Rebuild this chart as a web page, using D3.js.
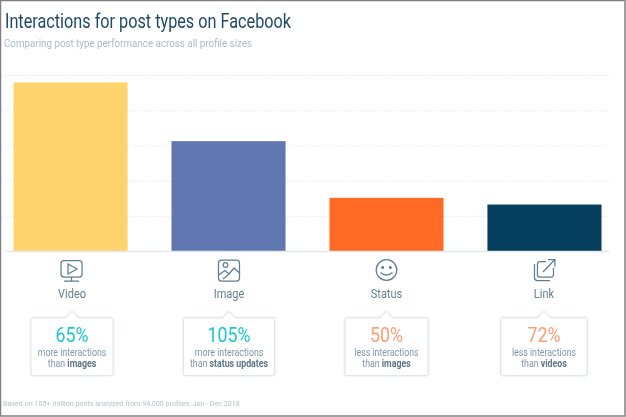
<!DOCTYPE html>
<html><head><meta charset="utf-8">
<script src="https://cdn.jsdelivr.net/npm/d3@7"></script>
<style>
html,body{margin:0;padding:0;background:#fff}
svg{display:block;font-family:Roboto,sans-serif;filter:blur(.3px)}
</style></head><body>
<svg id="c" width="626" height="417"></svg>
<script>
const categories=["Video","Image","Status","Link"];
const values=[4.79,3.12,1.51,1.32];
const barColors=["#FFD36E","#6177B2","#FF6B24","#053F5E"];
const gridTicks=[1,2,3,4,5];
const percents=["65%","105%","50%","72%"];
const percentColors=["#1CC5D5","#1CC5D5","#FF9C74","#FF9C74"];
const lineOne=["more interactions","more interactions","less interactions","less interactions"];
const lineTwoPlain=["than ","than ","than ","than "];
const lineTwoBold=["images","status updates","images","videos"];
const boxWidths=[82,91,83,86];
const centerNudge=[1.5,0.5,0,-0.5];

const svg=d3.select("#c");
const x=d3.scaleBand().domain(categories).range([13.5,601.5]).paddingInner(0.278);
const y=d3.scaleLinear().domain([0,5]).range([251,75]);

// frame
svg.append("rect").attr("x",.5).attr("y",.5).attr("width",624.5).attr("height",415.5)
  .attr("fill","#fff").attr("stroke","#808080").attr("stroke-width",1.5);

function cond(sel,px,py,sx,anchor){
  return sel.attr("transform",`translate(${px},${py}) scale(${sx},1)`).attr("text-anchor",anchor||"middle");
}
cond(svg.append("text").text("Interactions for post types on Facebook"),5,28,.812,"start")
  .attr("font-size",20).attr("fill","#1D4B66");
cond(svg.append("text").text("Comparing post type performance across all profile sizes"),4,47,.98,"start")
  .attr("font-size",10).attr("fill","#A9BBC7");
cond(svg.append("text").text("Based on 105+ million posts analyzed from 94,000 profiles, Jan - Dec 2018"),3,406,1.026,"start")
  .attr("font-size",7).attr("fill","#B3C2CC");

// grid
svg.append("g").selectAll("line").data(gridTicks).join("line")
  .attr("x1",5).attr("x2",609).attr("y1",d=>y(d)+.5).attr("y2",d=>y(d)+.5)
  .attr("stroke","#DDE3E6").attr("stroke-dasharray","1 1.5");

// bars
svg.append("g").selectAll("rect").data(categories).join("rect")
  .attr("x",d=>x(d)).attr("width",x.bandwidth())
  .attr("y",(d,i)=>y(values[i])).attr("height",(d,i)=>y(0)-y(values[i]))
  .attr("fill",(d,i)=>barColors[i]);

// baseline
svg.append("line").attr("x1",5).attr("x2",609).attr("y1",y(0)+.5).attr("y2",y(0)+.5)
  .attr("stroke","#E3E8EB").attr("stroke-width",1.5);

const centers=categories.map((c,i)=>x(c)+x.bandwidth()/2+centerNudge[i]);
const iconStroke="#5C7F94";
const icons=[
 g=>{g.append("rect").attr("x",-11).attr("y",-9.5).attr("width",21).attr("height",16.5).attr("rx",3);
     g.append("path").attr("d","M-4 -6V4L5 -1Z");
     g.append("path").attr("d","M-.5 7V11M-8 11H7");},
 g=>{g.append("rect").attr("x",-10.5).attr("y",-10).attr("width",21).attr("height",21).attr("rx",3);
     g.append("circle").attr("cx",-3.5).attr("cy",-5).attr("r",2.3);
     g.append("path").attr("d","M-10.5 5L-4 0.5L0 4L5 -2L10.5 3M-6 9L0 4");},
 g=>{g.append("circle").attr("r",10.3);
     g.append("circle").attr("cx",-3.8).attr("cy",-2.5).attr("r",.9).attr("fill",iconStroke);
     g.append("circle").attr("cx",3.8).attr("cy",-2.5).attr("r",.9).attr("fill",iconStroke);
     g.append("path").attr("d","M-6 2.5Q0 7.5 6 2.5");},
 g=>{g.append("path").attr("d","M2 -8.5H-4Q-6.5 -8.5 -6.5 -6V5Q-6.5 7 -4 7H7Q9.5 7 9.5 4.5V-2");
     g.append("path").attr("d","M-1 2L10.5 -10M4 -10.5H11V-3.5");
     g.append("path").attr("d","M-9.5 -6V7.5Q-9.5 10.5 -6.5 10.5H6");}
];
const iconY=270;
categories.forEach((c,i)=>{
  const cx=centers[i];
  const g=svg.append("g").attr("transform",`translate(${cx},${iconY})`)
    .attr("fill","none").attr("stroke",iconStroke).attr("stroke-width",1.25);
  icons[i](g);
  cond(svg.append("text").text(c),cx,298,.88).attr("font-size",12.5).attr("fill","#62808F");

  // callout
  const w=boxWidths[i],l=cx-w/2,r=cx+w/2,t=318,b=375.5;
  svg.append("path")
    .attr("d",`M${l+1.5} ${t}H${cx-6.5}L${cx} ${t-6.5}L${cx+6.5} ${t}H${r-1.5}Q${r} ${t} ${r} ${t+1.5}V${b-1.5}Q${r} ${b} ${r-1.5} ${b}H${l+1.5}Q${l} ${b} ${l} ${b-1.5}V${t+1.5}Q${l} ${t} ${l+1.5} ${t}Z`)
    .attr("fill","#fff").attr("stroke","#E1E6E9").attr("stroke-width",1)
    .style("filter","drop-shadow(0 .5px 1px rgba(90,110,125,.22))");
  cond(svg.append("text").text(percents[i]),cx,342,.89).attr("font-size",20).attr("fill",percentColors[i]);
  cond(svg.append("text").text(lineOne[i]),cx,355.5,.88).attr("font-size",10).attr("fill","#7F97A6");
  const t2=cond(svg.append("text"),cx,366.5,.88).attr("font-size",10).attr("fill","#7F97A6");
  t2.append("tspan").text(lineTwoPlain[i]);
  t2.append("tspan").text(lineTwoBold[i]).attr("font-weight",700).attr("fill","#5C7686");
});
</script></body></html>
